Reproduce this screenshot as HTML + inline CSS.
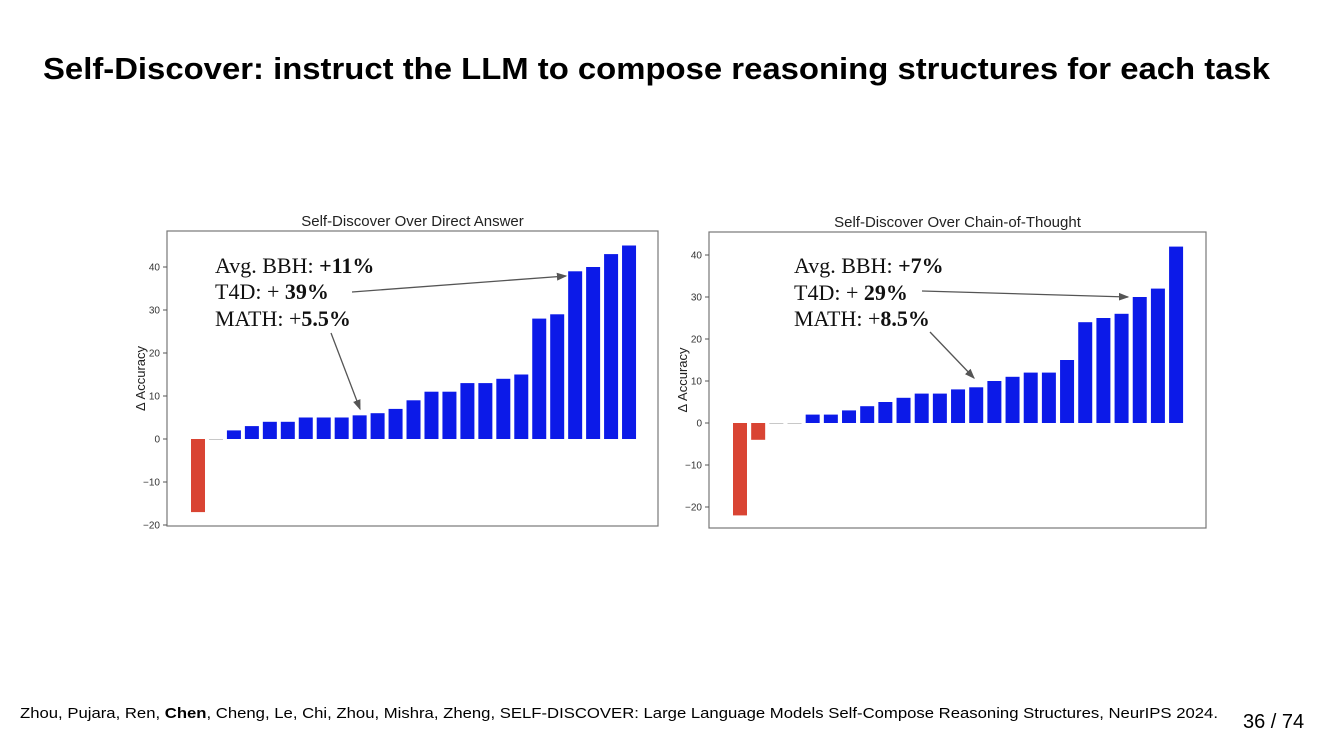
<!DOCTYPE html>
<html><head><meta charset="utf-8"><style>
body{margin:0;background:#fff;width:1334px;height:750px;overflow:hidden;font-family:"Liberation Sans",sans-serif}
</style></head><body>
<svg width="1334" height="750" xmlns="http://www.w3.org/2000/svg">
<defs><marker id="ah" markerWidth="8" markerHeight="8" refX="7" refY="4" orient="auto"><path d="M0,1 L8,4 L0,7 Z" fill="#555"/></marker></defs>
<text x="43" y="79" font-size="31" font-weight="bold" textLength="1227" lengthAdjust="spacingAndGlyphs" fill="#000">Self-Discover: instruct the LLM to compose reasoning structures for each task</text>
<g id="c1"></g>
<g id="c2"></g>
<g font-family="Liberation Serif,serif" font-size="22" fill="#111">
<text x="215" y="273">Avg. BBH: <tspan font-weight="bold">+11%</tspan></text>
<text x="215" y="299">T4D: + <tspan font-weight="bold">39%</tspan></text>
<text x="215" y="326">MATH: +<tspan font-weight="bold">5.5%</tspan></text>
<text x="794" y="273">Avg. BBH: <tspan font-weight="bold">+7%</tspan></text>
<text x="794" y="300">T4D: + <tspan font-weight="bold">29%</tspan></text>
<text x="794" y="326">MATH: +<tspan font-weight="bold">8.5%</tspan></text>
</g>
<g stroke="#555" stroke-width="1.3" fill="none" marker-end="url(#ah)">
<line x1="352" y1="292" x2="566" y2="276"/>
<line x1="331" y1="333" x2="360" y2="409"/>
<line x1="922" y1="291" x2="1128" y2="297"/>
<line x1="930" y1="332" x2="974" y2="378"/>
</g>
<text x="20" y="718" font-size="15" textLength="1198" lengthAdjust="spacingAndGlyphs" fill="#000">Zhou, Pujara, Ren, <tspan font-weight="bold">Chen</tspan>, Cheng, Le, Chi, Zhou, Mishra, Zheng, SELF-DISCOVER: Large Language Models Self-Compose Reasoning Structures, NeurIPS 2024.</text>
<text x="1243" y="728" font-size="20" fill="#000">36 / 74</text>
</svg>
<script>
const leftValues=[-17,0,2,3,4,4,5,5,5,5.5,6,7,9,11,11,13,13,14,15,28,29,39,40,43,45];
const rightValues=[-22,-4,0,0,2,2,3,4,5,6,7,7,8,8.5,10,11,12,12,15,24,25,26,30,32,42];
const leftTicks=[-20,-10,0,10,20,30,40];
const rightTicks=[-20,-10,0,10,20,30,40];
const NS="http://www.w3.org/2000/svg";
function mk(p,t,a){const e=document.createElementNS(NS,t);for(const k in a)e.setAttribute(k,a[k]);p.appendChild(e);return e;}
function draw(g,cfg,vals,ticks){
  const y=v=>cfg.y0-v*cfg.py;
  const title=mk(g,'text',{x:(cfg.fx0+cfg.fx1)/2,y:cfg.fy0-5,'font-size':15,'text-anchor':'middle',fill:'#222'});
  title.textContent=cfg.title;
  
  
  const fr=mk(g,'rect',{x:cfg.fx0,y:cfg.fy0,width:cfg.fx1-cfg.fx0,height:cfg.fy1-cfg.fy0,fill:'#fff',stroke:'#777','stroke-width':1.2});
  
  
  ticks.forEach(t=>{
    mk(g,'line',{x1:cfg.fx0-4,x2:cfg.fx0,y1:y(t),y2:y(t),stroke:'#555'});
    const l=mk(g,'text',{x:cfg.fx0-7,y:y(t)+3.5,'font-size':10,'text-anchor':'end',fill:'#333'});
    l.textContent=t<0?'\u2212'+(-t):t;
    
    
  });
  const yl=mk(g,'text',{x:0,y:0,'font-size':13,'text-anchor':'middle',fill:'#222',transform:`translate(${cfg.fx0-22},${(cfg.fy0+cfg.fy1)/2}) rotate(-90)`});
  yl.textContent='\u0394 Accuracy';
  
  
  vals.forEach((v,i)=>{
    const x=cfg.bx0+i*cfg.pitch;
    const top=Math.min(y(v),y(0)),h=Math.max(Math.abs(y(v)-y(0)),0.8);
    const b=mk(g,'rect',{x:x,y:top,width:cfg.bw,height:h,fill:v<0?'#d94433':(v===0?'#bbb':'#0c1ae8')});
    
    
  });
}
draw(document.getElementById('c1'),{title:'Self-Discover Over Direct Answer',fx0:167,fx1:658,fy0:231,fy1:526,y0:439,py:4.3,bx0:191,pitch:17.96,bw:14},leftValues,leftTicks);
draw(document.getElementById('c2'),{title:'Self-Discover Over Chain-of-Thought',fx0:709,fx1:1206,fy0:232,fy1:528,y0:423,py:4.2,bx0:733,pitch:18.17,bw:14},rightValues,rightTicks);
</script>
</body></html>
